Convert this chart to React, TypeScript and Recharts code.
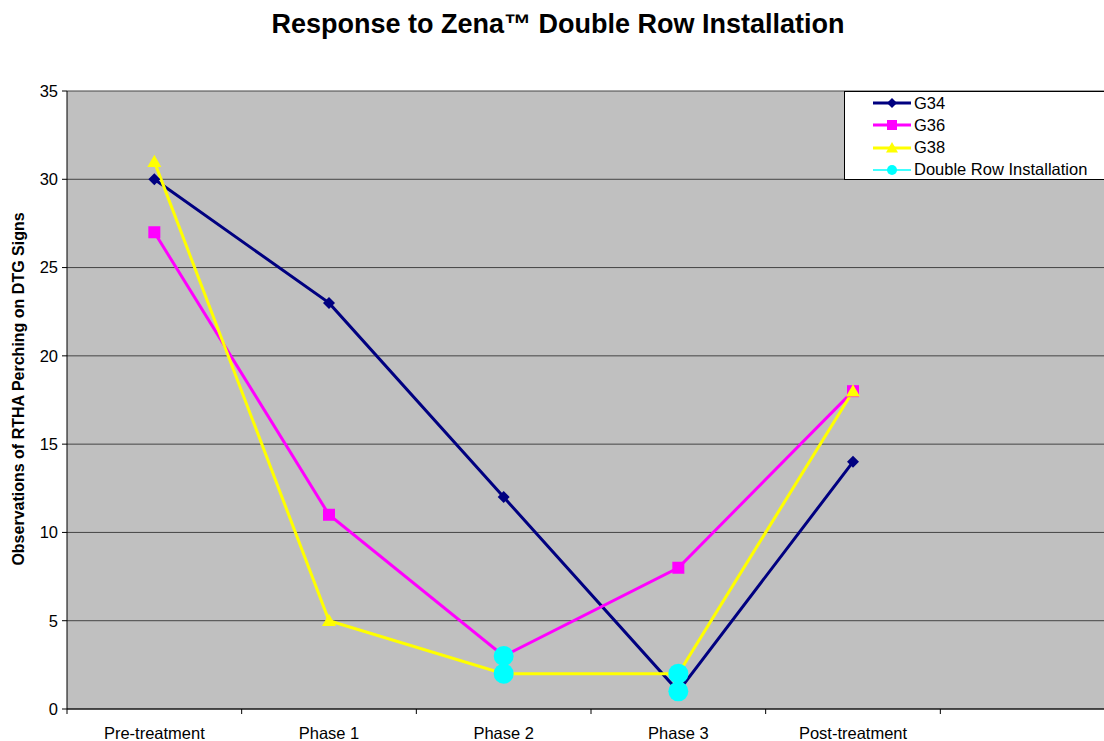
import React from 'react'
import {
  LineChart,
  Line,
  XAxis,
  YAxis,
  CartesianGrid,
} from 'recharts'

const categories = ['Pre-treatment', 'Phase 1', 'Phase 2', 'Phase 3', 'Post-treatment', '']
const g34 = [30, 23, 12, 1, 14, null]
const g36 = [27, 11, 3, 8, 18, null]
const g38 = [31, 5, 2, 2, 18, null]
// double row installation markers (two per phase, shown as separate points)
const doubleRowUpper = [null, null, 3, 2, null, null]
const doubleRowLower = [null, null, 2, 1, null, null]
const yTicks = [0, 5, 10, 15, 20, 25, 30, 35]

const data = categories.map((c, i) => ({
  name: c,
  g34: g34[i],
  g36: g36[i],
  g38: g38[i],
  drA: doubleRowUpper[i],
  drB: doubleRowLower[i],
}))

const FONT = 'Arial, "Liberation Sans", sans-serif'
const PLOT_LEFT = 67
const PLOT_RIGHT = 1115
const BAND = (PLOT_RIGHT - PLOT_LEFT) / categories.length

const NAVY = '#000080'
const MAGENTA = '#FF00FF'
const YELLOW = '#FFFF00'
const CYAN = '#00FFFF'

const Diamond = ({ cx, cy, fill, size = 6 }: any) => (
  <polygon
    points={`${cx},${cy - size} ${cx + size},${cy} ${cx},${cy + size} ${cx - size},${cy}`}
    fill={fill}
  />
)
const Square = ({ cx, cy, fill, size = 6 }: any) => (
  <rect x={cx - size} y={cy - size} width={size * 2} height={size * 2} fill={fill} />
)
const Triangle = ({ cx, cy, fill, size = 7 }: any) => (
  <polygon
    points={`${cx},${cy - size} ${cx + size},${cy + size * 0.75} ${cx - size},${cy + size * 0.75}`}
    fill={fill}
  />
)
const Circle = ({ cx, cy, fill, size = 10 }: any) => <circle cx={cx} cy={cy} r={size} fill={fill} />

const makeDot = (Shape: any, fill: string, size?: number) => (props: any) => {
  if (props.value == null || props.cy == null) return <g key={props.key} />
  return <Shape key={props.key} cx={props.cx} cy={props.cy} fill={fill} size={size} />
}

const XTick = ({ x, y, payload }: any) => (
  <g>
    <line x1={x - BAND / 2} y1={y} x2={x - BAND / 2} y2={y + 5} stroke="#000" />
    <text x={x} y={y + 30} textAnchor="middle" fontSize={16.5} fontFamily={FONT} fill="#000">
      {payload.value}
    </text>
  </g>
)

const legendItems = [
  { label: 'G34', color: NAVY, shape: Diamond, size: 5 },
  { label: 'G36', color: MAGENTA, shape: Square, size: 5 },
  { label: 'G38', color: YELLOW, shape: Triangle, size: 6 },
  { label: 'Double Row Installation', color: CYAN, shape: Circle, size: 5 },
]

export default function App() {
  return (
    <div
      style={{
        position: 'absolute',
        left: 0,
        top: 0,
        width: 1104,
        height: 741,
        overflow: 'hidden',
        background: '#fff',
        fontFamily: FONT,
      }}
    >
      <div
        style={{
          position: 'absolute',
          left: 0,
          width: 1116,
          top: 9,
          textAlign: 'center',
          fontSize: 27,
          fontWeight: 'bold',
          color: '#000',
        }}
      >
        Response to Zena™ Double Row Installation
      </div>

      <LineChart
        width={1120}
        height={741}
        data={data}
        margin={{ top: 91, right: 5, bottom: 0, left: 0 }}
      >
        <CartesianGrid vertical={false} stroke="#444" fill="#C0C0C0" fillOpacity={1} />
        <XAxis
          dataKey="name"
          scale="band"
          interval={0}
          height={32}
          tickLine={false}
          tickSize={0}
          tickMargin={0}
          axisLine={{ stroke: '#000' }}
          tick={<XTick />}
        />
        <YAxis
          width={PLOT_LEFT}
          domain={[0, 35]}
          ticks={yTicks}
          interval={0}
          tickSize={5}
          tickMargin={4}
          axisLine={{ stroke: '#000' }}
          tickLine={{ stroke: '#000' }}
          tick={{ fontSize: 16.5, fontFamily: FONT, fill: '#000' }}
          label={{
            content: () => (
              <text
                x={24}
                y={389}
                transform="rotate(-90 24 389)"
                textAnchor="middle"
                fontSize={16}
                fontWeight="bold"
                fontFamily={FONT}
                fill="#000"
              >
                Observations of RTHA Perching on DTG Signs
              </text>
            ),
          }}
        />
        <Line
          dataKey="g34"
          stroke={NAVY}
          strokeWidth={3}
          dot={makeDot(Diamond, NAVY, 6)}
          activeDot={false}
          isAnimationActive={false}
        />
        <Line
          dataKey="g36"
          stroke={MAGENTA}
          strokeWidth={3}
          dot={makeDot(Square, MAGENTA, 6)}
          activeDot={false}
          isAnimationActive={false}
        />
        <Line
          dataKey="g38"
          stroke={YELLOW}
          strokeWidth={3}
          dot={makeDot(Triangle, YELLOW, 7)}
          activeDot={false}
          isAnimationActive={false}
        />
        <Line
          dataKey="drA"
          stroke="none"
          dot={makeDot(Circle, CYAN, 10)}
          activeDot={false}
          isAnimationActive={false}
        />
        <Line
          dataKey="drB"
          stroke="none"
          dot={makeDot(Circle, CYAN, 10)}
          activeDot={false}
          isAnimationActive={false}
        />
      </LineChart>

      <div
        style={{
          position: 'absolute',
          left: 844,
          top: 91,
          width: 280,
          height: 89,
          boxSizing: 'border-box',
          border: '1px solid #000',
          background: '#fff',
        }}
      >
        {legendItems.map((item, i) => (
          <div
            key={item.label}
            style={{
              position: 'absolute',
              left: 28,
              top: 0 + i * 22.3,
              height: 22,
              display: 'flex',
              alignItems: 'center',
              fontSize: 16.5,
              color: '#000',
              whiteSpace: 'nowrap',
            }}
          >
            <svg width={40} height={16} style={{ marginRight: 1 }}>
              <line x1={0} y1={8} x2={38} y2={8} stroke={item.color} strokeWidth={i === 3 ? 1.5 : 3} />
              <item.shape cx={19} cy={8} fill={item.color} size={item.size} />
            </svg>
            {item.label}
          </div>
        ))}
      </div>
    </div>
  )
}
